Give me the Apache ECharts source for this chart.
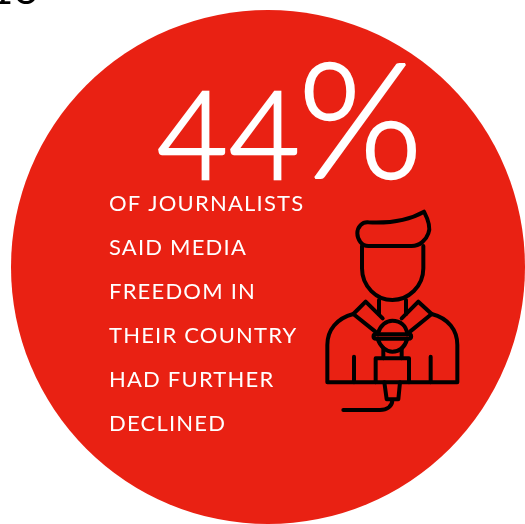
<!DOCTYPE html>
<html><head><meta charset="utf-8">
<script src="https://cdn.jsdelivr.net/npm/echarts@6/dist/echarts.min.js"></script>
<style>html,body{margin:0;padding:0;background:#fff}#c{width:525px;height:524px}</style></head>
<body><div id="c"></div>
<script>
const headlineValue = ['44', '%'];
const cornerText = ['18'];
const captionLines = ['OF JOURNALISTS','SAID MEDIA','FREEDOM IN','THEIR COUNTRY','HAD FURTHER','DECLINED'];
const discValues = [100];
const RED = '#E92113';
const iconPaths = [
 'M205 97 C265 100 325 92 372 65 C385 90 392 115 385 130 C378 150 360 168 335 168 L205 168 C185 168 172 148 172 130 C172 110 187 95 205 97 Z',
 'M186 168 L186 235 C186 290 230 330 277 330 C325 330 370 290 370 235 L370 168',
 'M237 330 L237 372 M318 330 L318 372',
 'M160 372 L197 335 L248 385 M160 372 L226 425',
 'M395 372 L355 335 L305 385 M395 372 L330 425',
 'M160 372 C110 385 82 420 82 465 L82 577 L227 577 M327 577 L472 577 L472 465 C472 420 445 385 395 372',
 'M233 432 C240 405 260 392 277 392 C300 392 318 405 322 432',
 'M228 433 L326 433 C336 433 336 446 326 446 L228 446 C218 446 218 433 228 433 Z',
 'M233 446 C240 470 260 485 277 485 C300 485 315 470 322 446',
 'M250 475 L250 505 M305 475 L305 505',
 'M227 505 L327 505 L327 577 L227 577 Z',
 'M253 577 L260 628 L295 628 L300 577',
 'M277 630 C277 650 260 660 240 660 L130 660',
 'M162 500 L162 577 M392 500 L392 577'
];
const origGet = HTMLCanvasElement.prototype.getContext;
HTMLCanvasElement.prototype.getContext = function(){ const c = origGet.apply(this, arguments); if(c && 'letterSpacing' in c) c.letterSpacing='1.2px'; return c; };
const chart = echarts.init(document.getElementById('c'));
const g = [];
iconPaths.forEach((p,i) => {
  echarts.graphic.registerShape('iconPart'+i, echarts.graphic.extendPath(p, {}));
  g.push({type:'iconPart'+i, x:300, y:190, scaleX:1/3, scaleY:1/3, silent:true, z:10,
    style:{fill:'none', stroke:'#000', lineWidth:12, lineCap:'round', lineJoin:'round'}});
});
function txt(t, x, base, font, size, fill, sw){
  const s = {text:t, fill:fill, font:font+' '+size+'px Lato', textAlign:'left', textBaseline:'top'};
  if (sw) { s.stroke = fill; s.lineWidth = sw; }
  return {type:'text', x:x, y:base-0.886*size, z:10, silent:true, style:s};
}
g.push(txt(headlineValue[0], 157, 186, '300', 122, '#fff', 2.5));
g.push(txt(headlineValue[1], 298, 188, '300', 160, '#fff', 2.5));
captionLines.forEach((t,i) => g.push(txt(t, 109, 212+44*i, '400', 22, '#fff')));
g.push(txt(cornerText[0], -10, 6, '400', 40, '#000'));
chart.setOption({
  animation:false,
  series:[{type:'pie', center:[268,267], radius:[0,257], silent:true, z:1, label:{show:false}, labelLine:{show:false},
    itemStyle:{color:RED}, data:discValues.map(v=>({value:v}))}],
  graphic:g
});
</script></body></html>
